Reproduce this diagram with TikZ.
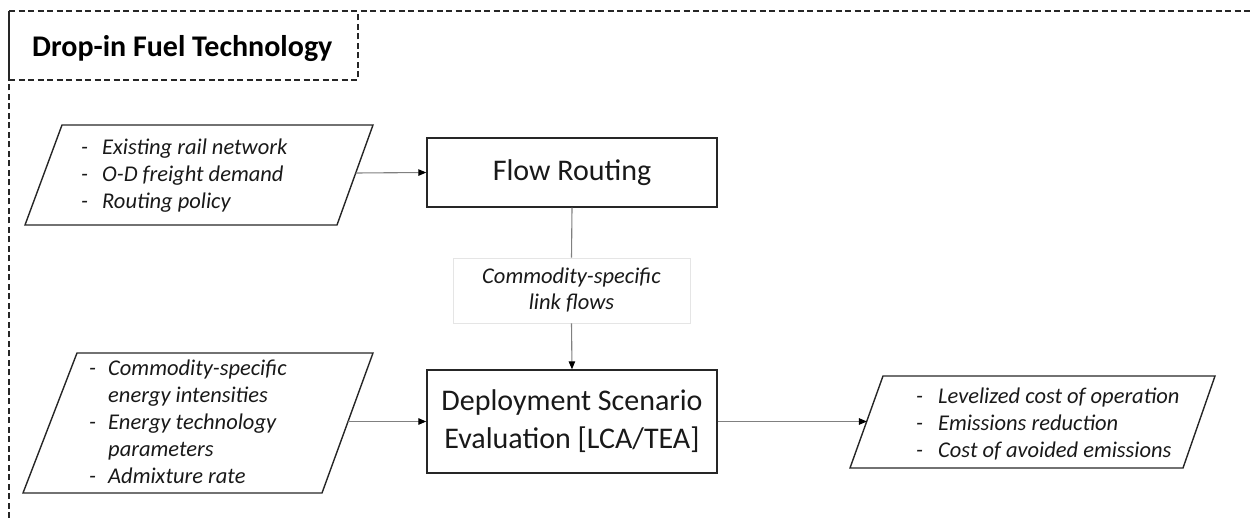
\documentclass[tikz,border=0pt]{standalone}
\usepackage{fontspec}
\setmainfont{Carlito}
\usetikzlibrary{arrows.meta}
\begin{document}
\begin{tikzpicture}[x=1pt,y=-1pt,
  box/.style={draw=black!85,line width=1.4pt,inner sep=0pt,font=\fontsize{30}{38}\selectfont,align=center,text=black!90},
  para/.style={draw=black!85,line width=1.4pt},
  frame/.style={draw=black!85,line width=1.6pt,dash pattern=on 6pt off 3.5pt},
  conn/.style={draw=black!50,line width=1.1pt},
  arr/.style={conn,-{Triangle[length=8pt,width=6.5pt,color=black]}},
  itemtxt/.style={font=\fontsize{22.5}{27}\selectfont\itshape,anchor=base west,inner sep=0pt,text=black!90},
  labbox/.style={draw=black!10,line width=0.8pt,inner sep=0pt,font=\fontsize{22.5}{26}\selectfont\itshape,align=center,text=black!90},
  titletxt/.style={font=\fontsize{30}{34}\selectfont\bfseries,anchor=base west,inner sep=0pt},
]
\useasboundingbox (0,0) rectangle (1250,518);

% outer frame and title box
\draw[frame] (9,518) -- (9,80);
\draw[draw=black!85,line width=1.6pt] (9,80) -- (9,11);
\draw[frame] (9,11) -- (1250,11);
\draw[frame] (9,80) -- (358,80) -- (358,11);
\node[titletxt] (title) at (32,57) {Drop-in Fuel Technology};

% main boxes
\node[box,minimum width=290pt,minimum height=69pt] (fr) at (572,172.5) {Flow Routing};
\node[box,minimum width=290pt,minimum height=103pt] (dep) at (572,421.5) {Deployment Scenario\\Evaluation [LCA/TEA]};
\node[labbox,minimum width=237pt,minimum height=65pt] (lab) at (571.5,290.5) {Commodity-specific\\link flows};

% parallelogram 1
\draw[para] (62,125) -- (373,125) -- (337,225) -- (25,225) -- cycle;
\node[itemtxt] (in1) at (81,155) {\begin{tabular}[t]{@{}l@{}}
\makebox[21pt][l]{-}Existing rail network\\
\makebox[21pt][l]{-}O-D freight demand\\
\makebox[21pt][l]{-}Routing policy\end{tabular}};
\coordinate (p1r) at (355.7,173);

% parallelogram 2
\draw[para] (77,353) -- (373,353) -- (322,493) -- (23,493) -- cycle;
\node[itemtxt] (in2) at (89,376) {\begin{tabular}[t]{@{}l@{}}
\makebox[19pt][l]{-}Commodity-specific\\
\makebox[19pt][l]{}energy intensities\\
\makebox[19pt][l]{-}Energy technology\\
\makebox[19pt][l]{}parameters\\
\makebox[19pt][l]{-}Admixture rate\end{tabular}};
\coordinate (p2r) at (348,421.5);

% parallelogram 3
\draw[para] (883,376) -- (1215,376) -- (1183,468) -- (850,468) -- cycle;
\node[itemtxt] (out) at (916,403) {\begin{tabular}[t]{@{}l@{}}
\makebox[22pt][l]{-}Levelized cost of operation\\
\makebox[22pt][l]{-}Emissions reduction\\
\makebox[22pt][l]{-}Cost of avoided emissions\end{tabular}};
\coordinate (p3l) at (866.9,421.5);

% connectors
\draw[arr] (p1r) -- (fr.west);
\draw[conn] (fr.south) -- (lab.north);
\draw[arr] (lab.south) -- (dep.north);
\draw[arr] (p2r) -- (dep.west);
\draw[arr] (dep.east) -- (p3l);
\end{tikzpicture}
\end{document}
